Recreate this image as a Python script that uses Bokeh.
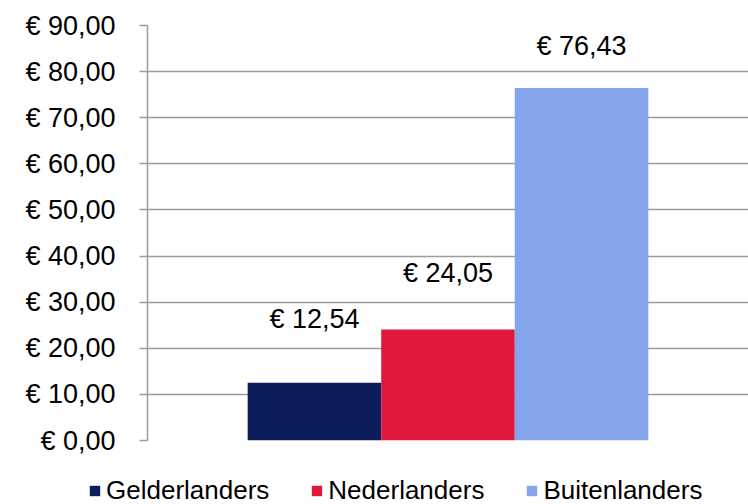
from bokeh.plotting import figure
from bokeh.layouts import column
from bokeh.models import FactorRange, Range1d, FixedTicker, CustomJSTickFormatter, ColumnDataSource
from bokeh.embed import file_html
from bokeh.resources import INLINE
from bokeh.core.properties import value

categories = ["Gelderlanders", "Nederlanders", "Buitenlanders"]
values = [12.54, 24.05, 76.43]
y_ticks = [0, 10, 20, 30, 40, 50, 60, 70, 80, 90]

colors = ["#0d1c5b", "#e0193a", "#84a4ec"]
label_offsets = [-64, -57, -42]

labels = ["€ " + f"{v:.2f}".replace(".", ",") for v in values]

FONT = "Liberation Sans"
FS = "27px"
GRID = "#9c9c9c"

src = ColumnDataSource(dict(cat=categories, val=values, color=colors,
                            label=labels, yoff=label_offsets))

p = figure(width=748, height=456, output_backend="svg", toolbar_location=None,
           x_range=FactorRange(factors=categories, range_padding=0.5,
                               range_padding_units="percent"),
           y_range=Range1d(0, 90), x_axis_location=None)
p.min_border_left = 147
p.min_border_right = 0
p.min_border_top = 25
p.min_border_bottom = 16
p.outline_line_color = None
p.background_fill_color = "white"
p.border_fill_color = "white"
p.frame_align = False

p.vbar(x="cat", top="val", width=1.0, source=src, fill_color="color",
       line_color=None)

p.text(x="cat", y="val", text="label", y_offset="yoff", source=src,
       text_align="center", text_baseline="alphabetic",
       text_font=value(FONT), text_font_size=FS, text_color="black")

p.xgrid.visible = False

p.yaxis.ticker = FixedTicker(ticks=y_ticks)
p.yaxis.formatter = CustomJSTickFormatter(code="return '€ ' + tick.toFixed(2).replace('.', ',');")
p.yaxis.axis_line_color = GRID
p.yaxis.axis_line_width = 1.5
p.yaxis.major_tick_line_color = GRID
p.yaxis.major_tick_line_width = 1.5
p.yaxis.major_tick_out = 8
p.yaxis.major_tick_in = 0
p.yaxis.minor_tick_line_color = None
p.yaxis.major_label_standoff = 24
p.yaxis.major_label_text_font = FONT
p.yaxis.major_label_text_font_size = FS
p.yaxis.major_label_text_color = "black"

p.ygrid.grid_line_color = GRID
p.ygrid.grid_line_width = 1.5
p.ygrid.ticker = FixedTicker(ticks=y_ticks)

# legend strip: same series drawn far outside its visible range, only the legend shows
p2 = figure(width=748, height=48, output_backend="svg", toolbar_location=None,
            x_range=FactorRange(factors=categories), y_range=Range1d(1000, 1001),
            x_axis_location=None, y_axis_location=None)
p2.min_border_left = 0
p2.min_border_right = 0
p2.min_border_top = 0
p2.min_border_bottom = 0
p2.outline_line_color = None
p2.frame_align = False
p2.xgrid.visible = False
p2.ygrid.visible = False
p2.vbar(x="cat", top="val", width=1.0, source=src, fill_color="color",
        line_color=None, legend_field="cat")

leg = p2.legend[0]
leg.orientation = "horizontal"
leg.location = (88, -2)
leg.glyph_width = 13
leg.glyph_height = 13
leg.label_standoff = 5
leg.spacing = 41
leg.padding = 0
leg.margin = 0
leg.border_line_color = None
leg.background_fill_alpha = 0
leg.label_text_font = FONT
leg.label_text_font_size = "26px"
leg.label_text_color = "black"
leg.label_height = 26

layout = column(p, p2, spacing=0)

open("out.html", "w").write(file_html(layout, INLINE))
